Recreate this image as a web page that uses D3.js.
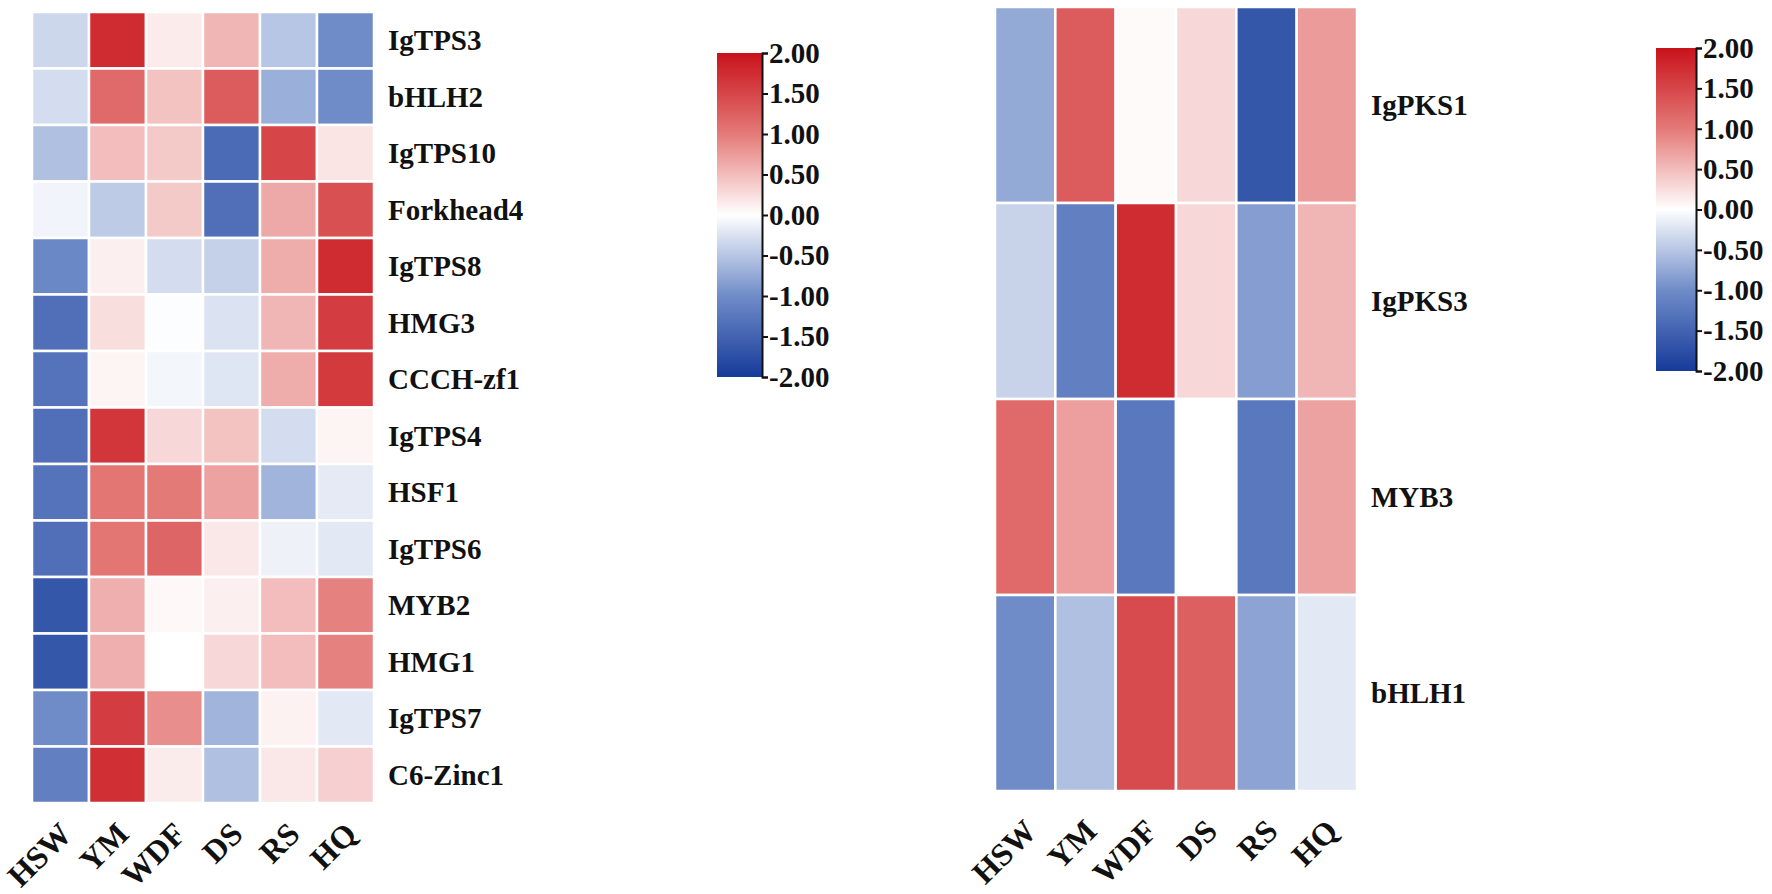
<!DOCTYPE html>
<html>
<head>
<meta charset="utf-8">
<script src="https://cdn.jsdelivr.net/npm/d3@7"></script>
<style>
  html, body { margin: 0; padding: 0; background: #fff; }
  text { font-family: "Liberation Serif", "Times New Roman", serif; font-weight: bold; fill: #111; }
</style>
</head>
<body>
<svg id="canvas"></svg>
<script>
// samples (columns), same for both panels
const samples = ['HSW', 'YM', 'WDF', 'DS', 'RS', 'HQ'];

// left panel genes and values (rows follow genesLeft)
const genesLeft = ['IgTPS3', 'bHLH2', 'IgTPS10', 'Forkhead4', 'IgTPS8', 'HMG3', 'CCCH-zf1',
  'IgTPS4', 'HSF1', 'IgTPS6', 'MYB2', 'HMG1', 'IgTPS7', 'C6-Zinc1'];
const valuesLeft = [
  [-0.35, 1.75, 0.15, 0.55, -0.5, -1.0],
  [-0.3, 1.15, 0.45, 1.3, -0.7, -1.0],
  [-0.55, 0.5, 0.4, -1.4, 1.5, 0.2],
  [-0.1, -0.45, 0.4, -1.35, 0.65, 1.4],
  [-1.05, 0.12, -0.3, -0.4, 0.62, 1.75],
  [-1.35, 0.25, -0.02, -0.25, 0.55, 1.6],
  [-1.3, 0.08, -0.08, -0.22, 0.62, 1.62],
  [-1.35, 1.65, 0.3, 0.45, -0.3, 0.08],
  [-1.3, 1.05, 1.0, 0.7, -0.65, -0.18],
  [-1.35, 1.05, 1.2, 0.18, -0.12, -0.2],
  [-1.65, 0.6, 0.05, 0.12, 0.5, 0.95],
  [-1.65, 0.6, 0.0, 0.3, 0.5, 0.95],
  [-1.0, 1.6, 0.85, -0.65, 0.1, -0.2],
  [-1.15, 1.72, 0.14, -0.55, 0.18, 0.35]
];

// right panel
const genesRight = ['IgPKS1', 'IgPKS3', 'MYB3', 'bHLH1'];
const valuesRight = [
  [-0.75, 1.3, 0.04, 0.3, -1.65, 0.75],
  [-0.38, -1.15, 1.75, 0.3, -0.85, 0.55],
  [1.15, 0.72, -1.25, 0.0, -1.25, 0.7],
  [-1.0, -0.55, 1.45, 1.25, -0.8, -0.2]
];

// colour bar ticks
const legendTicks = [-2, -1.5, -1, -0.5, 0, 0.5, 1, 1.5, 2];

const width = 1772;
const height = 894;

const color = d3.scaleLinear()
  .domain([-2, -1, 0, 1, 2])
  .range(['#163a9a', '#6f8cc8', '#ffffff', '#e47a78', '#c8121a'])
  .clamp(true);

const svg = d3.select('#canvas')
  .attr('width', width)
  .attr('height', height);

// one heatmap panel
function drawHeatmap(genes, values, box) {
  const x = d3.scaleBand().domain(samples).range([box.x0, box.x1]);
  const y = d3.scaleBand().domain(genes).range([box.y0, box.y1]);

  const cells = [];
  genes.forEach((g, i) => samples.forEach((s, j) => cells.push({gene: g, sample: s, v: values[i][j]})));

  const g = svg.append('g');
  g.selectAll('rect')
    .data(cells)
    .enter()
    .append('rect')
    .attr('x', d => x(d.sample))
    .attr('y', d => y(d.gene))
    .attr('width', x.bandwidth())
    .attr('height', y.bandwidth())
    .attr('fill', d => color(d.v))
    .attr('stroke', '#fff')
    .attr('stroke-width', 2.5);

  // gene names on the right
  g.selectAll('.rowlab')
    .data(genes)
    .enter()
    .append('text')
    .attr('class', 'rowlab')
    .attr('x', box.x1 + 14)
    .attr('y', d => y(d) + y.bandwidth() / 2)
    .attr('dy', '0.35em')
    .style('font-size', '29px')
    .text(d => d);

  // sample names, slanted
  g.selectAll('.collab')
    .data(samples)
    .enter()
    .append('text')
    .attr('class', 'collab')
    .attr('transform', d => `translate(${x(d) + x.bandwidth() / 2 + 13}, ${box.y1 + box.labGap}) rotate(-45)`)
    .attr('text-anchor', 'end')
    .style('font-size', '32px')
    .text(d => d);
}

// colour bar with its axis
function drawLegend(id, box) {
  const grad = svg.append('defs')
    .append('linearGradient')
    .attr('id', id)
    .attr('x1', 0).attr('y1', 1).attr('x2', 0).attr('y2', 0);
  grad.selectAll('stop')
    .data(d3.range(0, 1.0001, 0.05))
    .enter()
    .append('stop')
    .attr('offset', d => d)
    .attr('stop-color', d => color(-2 + d * 4));

  svg.append('rect')
    .attr('x', box.x0)
    .attr('y', box.y0)
    .attr('width', box.x1 - box.x0)
    .attr('height', box.y1 - box.y0)
    .attr('fill', `url(#${id})`);

  const scale = d3.scaleLinear().domain([-2, 2]).range([box.y1, box.y0]);
  const axis = svg.append('g')
    .attr('transform', `translate(${box.x1}, 0)`)
    .call(d3.axisRight(scale).tickValues(legendTicks).tickFormat(d => d.toFixed(2)).tickSize(6).tickSizeOuter(6));
  axis.select('.domain').attr('stroke', '#111').attr('stroke-width', 2);
  axis.selectAll('.tick line').attr('stroke', '#111').attr('stroke-width', 2);
  axis.selectAll('.tick text')
    .attr('x', 7)
    .style('font-family', '"Liberation Serif", "Times New Roman", serif')
    .style('font-weight', 'bold')
    .style('font-size', '29px')
    .attr('fill', '#111');
}

drawHeatmap(genesLeft, valuesLeft, {x0: 32, x1: 374, y0: 12, y1: 803, labGap: 33});
drawHeatmap(genesRight, valuesRight, {x0: 995, x1: 1357, y0: 7, y1: 791, labGap: 42});
drawLegend('gradLeft', {x0: 717, x1: 762, y0: 53, y1: 377});
drawLegend('gradRight', {x0: 1656, x1: 1696, y0: 48, y1: 371});
</script>
</body>
</html>
